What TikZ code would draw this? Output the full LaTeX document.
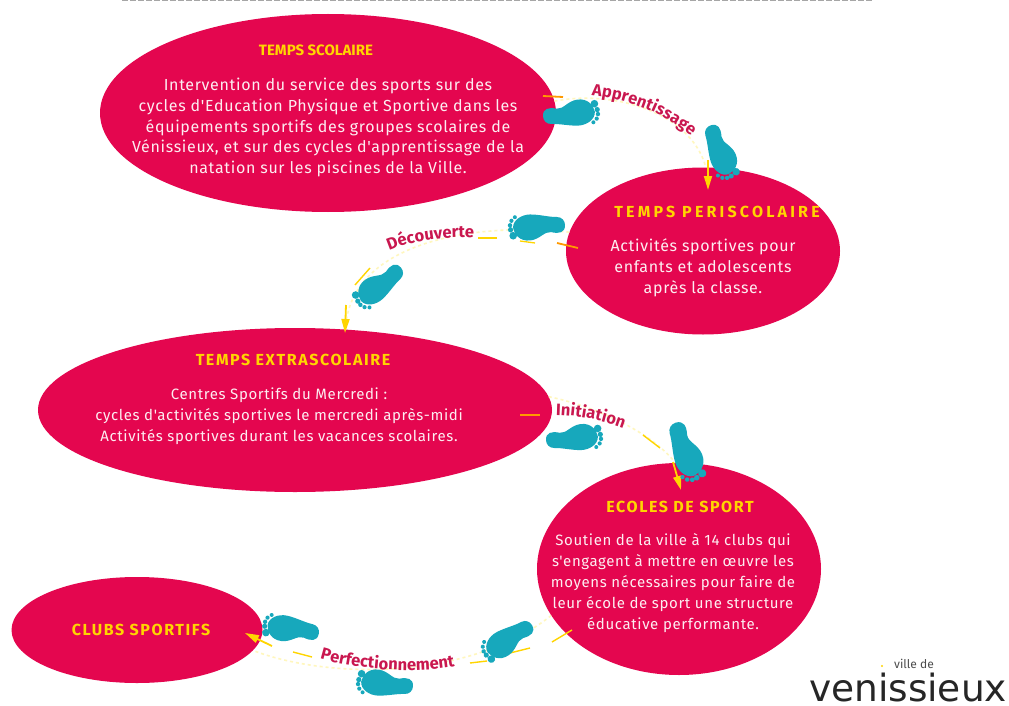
\documentclass[tikz,border=0pt]{standalone}
\usepackage{fontspec}
\setmainfont{Fira Sans}
\newfontfamily\logofont{DejaVu Sans}
\newfontfamily\bodyf[LetterSpace=4.2]{Fira Sans}
\usetikzlibrary{shapes.geometric,decorations.text,arrows.meta}
\definecolor{crim}{HTML}{E4064F}
\definecolor{labc}{HTML}{C9174F}
\definecolor{yel}{HTML}{FFD500}
\definecolor{pale}{HTML}{FFF7BE}
\definecolor{cyanf}{HTML}{17A8BC}
\definecolor{bodyt}{HTML}{FDEDF1}
\tikzset{
  x=1pt,y=-1pt,
  blob/.style={ellipse,fill=crim,inner sep=0pt,draw=none},
  ttl/.style={text=yel,font=\fontsize{16}{18}\selectfont\bfseries\addfontfeature{LetterSpace=10},inner sep=0pt,anchor=center},
  bod/.style={text=bodyt,font=\bodyf\fontsize{16}{20.8}\selectfont,align=center,inner sep=0pt,anchor=center},
  bodsmall/.style={bod,font=\bodyf\fontsize{15}{20.8}\selectfont},
  ghost/.style={draw=pale,line width=1.6pt,dashed},
  seg/.style={draw=yel,line width=1.8pt},
  arr/.style={draw=yel,line width=1.8pt,-{Triangle[width=8pt,length=14pt]}},
  curvetxt/.style={decorate,decoration={text along path,text align=center,raise=0pt,
     text={#1}}},
  foot/.pic={
    \fill[cyanf] (-8,0) .. controls (-8,-8) and (-2,-9) .. (6,-7)
       .. controls (13,-6) and (17,-14) .. (27,-15)
       .. controls (38,-16) and (43,-8) .. (44,-2)
       .. controls (44,6) and (35,11) .. (27,11)
       .. controls (18,11) and (8,8) .. (0,8)
       .. controls (-5,8) and (-8,4) .. (-8,0) -- cycle;
    \fill[cyanf] (44,-10) circle (3.8) (46.5,-4) circle (2.6) (47,0.5) circle (2.2)
       (45.5,5) circle (2.1) (42,8.5) circle (2);
  }
}
\newcommand{\lbl}{\bfseries\fontsize{16.5}{18}\selectfont\color{labc}}
\begin{document}
\begin{tikzpicture}
\useasboundingbox (0,0) rectangle (1009,706);
\fill[white] (0,0) rectangle (1009,706);
% cut-off top line
\draw[black!35,line width=1.2pt,dash pattern=on 6pt off 2pt] (122,0.5) -- (872,0.5);

% ellipses
\node[blob,minimum width=456,minimum height=198] (n1) at (328,113) {};
\node[blob,minimum width=274,minimum height=167] (n2) at (703,251) {};
\node[blob,minimum width=514,minimum height=164] (n3) at (295,410) {};
\node[blob,minimum width=284,minimum height=212] (n4) at (679,569) {};
\node[blob,minimum width=251,minimum height=106] (n5) at (137,630) {};

% connectors (faint whole curve)
\coordinate (w1) at (708,190);
\draw[ghost] (n1.3) .. controls (610,90) and (690,110) .. (n2.88);
\draw[ghost] (n2.172) .. controls (480,222) and (350,240) .. (n3.58);
\draw[ghost] (n3.3) .. controls (590,405) and (650,430) .. (n4.92);
\draw[ghost] (n4.200) .. controls (470,680) and (330,680) .. (n5.350);

% bright segments and arrows
\coordinate (a1) at (543,96); \coordinate (a2) at (563,97);
\draw[seg,draw=orange!70!yel] (a1) -- (a2);
\coordinate (a3) at (708,160); \draw[arr] (a3) -- (w1);

\coordinate (b1) at (578,248); \coordinate (b2) at (557,243);
\draw[seg,draw=orange!70!yel] (b1) -- (b2);
\coordinate (b3) at (535,243); \coordinate (b4) at (520,241);
\draw[seg,line width=1.3pt] (b3) -- (b4);
\coordinate (b5) at (497,238); \coordinate (b6) at (478,238);
\draw[seg,line width=1.4pt] (b5) -- (b6);
\coordinate (b7) at (370,268); \coordinate (b8) at (355,285);
\draw[seg,line width=1.4pt] (b7) -- (b8);
\coordinate (b9) at (346,305); \coordinate (b10) at (345,333);
\draw[arr] (b9) -- (b10);

\coordinate (c1) at (520,415); \coordinate (c2) at (540,415);
\draw[seg,draw=orange!70!yel] (c1) -- (c2);
\coordinate (c3) at (643,435); \coordinate (c4) at (660,448);
\draw[seg,line width=1.4pt] (c3) -- (c4);
\coordinate (c5) at (673,462); \coordinate (c6) at (681,490);
\draw[arr] (c5) -- (c6);

\coordinate (d1) at (572,630); \coordinate (d2) at (552,642);
\draw[seg,line width=1.4pt] (d1) -- (d2);
\coordinate (d3) at (530,648); \coordinate (d4) at (510,653);
\draw[seg,line width=1.4pt] (d3) -- (d4);
\coordinate (d5) at (487,661); \coordinate (d6) at (470,663);
\draw[seg,line width=1.4pt] (d5) -- (d6);
\coordinate (d7) at (312,657); \coordinate (d8) at (293,652);
\draw[seg,line width=1.4pt] (d7) -- (d8);
\coordinate (d9) at (272,646); \coordinate (d10) at (245,633);
\draw[arr] (d9) -- (d10);

% footprints
\pic[rotate=3] at (551,116) {foot};
\pic[rotate=-72] at (713,133) {foot};
\pic[rotate=181] at (557,225) {foot};
\pic[rotate=222,yscale=-1] at (395,273) {foot};
\pic[rotate=2] at (554,440) {foot};
\pic[rotate=-73,scale=1.08] at (678,431) {foot};
\pic[rotate=209] at (525,629) {foot};
\pic[rotate=177,yscale=-1] at (405,686) {foot};
\pic[rotate=168] at (311,632) {foot};

% ellipse texts
\node[ttl,font=\fontsize{15}{18}\selectfont\bfseries] (t1) at (316,50) {TEMPS SCOLAIRE};
\node[bod] (x1) at (328,127.5) {Intervention du service des sports sur des\\cycles d'Education Physique et Sportive dans les\\équipements sportifs des groupes scolaires de\\Vénissieux, et sur des cycles d'apprentissage de la\\natation sur les piscines de la Ville.};
\node[ttl,font=\fontsize{16}{18}\selectfont\bfseries\addfontfeature{LetterSpace=20}] (t2) at (717,212) {TEMPS PERISCOLAIRE};
\node[bod] (x2) at (703,268) {Activités sportives pour\\enfants et adolescents\\après la classe.};
\node[ttl] (t3) at (293,360) {TEMPS EXTRASCOLAIRE};
\node[bodsmall] (x3) at (279,416) {Centres Sportifs du Mercredi :\\cycles d'activités sportives le mercredi après-midi\\Activités sportives durant les vacances scolaires.};
\node[ttl] (t4) at (680,507) {ECOLES DE SPORT};
\node[bodsmall] (x4) at (673,583) {Soutien de la ville à 14 clubs qui\\s'engagent à mettre en œuvre les\\moyens nécessaires pour faire de\\leur école de sport une structure\\éducative performante.};
\node[ttl] (t5) at (141,630) {CLUBS SPORTIFS};

% curved labels
\path[curvetxt={|\lbl|Apprentissage}]
  (584,95) .. controls (625,98) and (665,112) .. (697,141);
\path[curvetxt={|\lbl|Découverte}]
  (382,254) .. controls (410,240) and (445,236) .. (482,238);
\path[curvetxt={|\lbl|Initiation}]
  (551,415) .. controls (578,415) and (602,420) .. (628,430);
\path[curvetxt={|\lbl|Perfectionnement}]
  (312,656) .. controls (350,670) and (420,675) .. (463,665);

% logo
\node[inner sep=0pt,anchor=base,text=black!85,font=\logofont\fontsize{37.5}{40}\selectfont] (lg) at (908,701) {venissieux};
\node[inner sep=0pt,text=black!70,font=\fontsize{12}{14}\selectfont] (vd) at (914,664) {ville de};
\fill[yel] (882,666) circle (1.2);
\end{tikzpicture}
\end{document}
